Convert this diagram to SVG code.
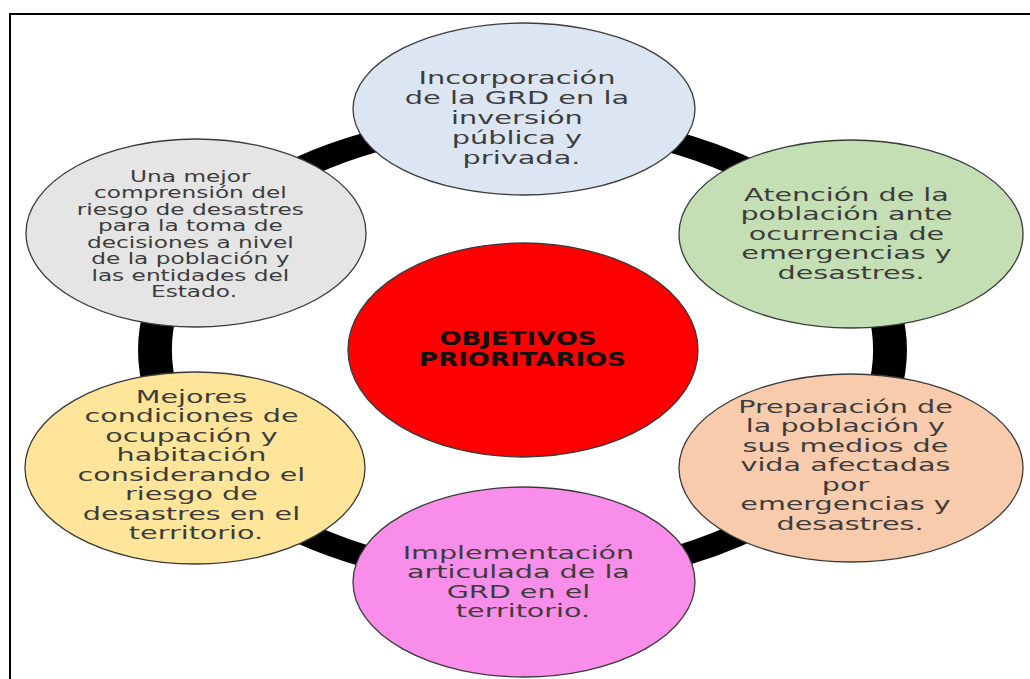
<svg xmlns="http://www.w3.org/2000/svg" width="1030" height="679" viewBox="0 0 1030 679">
<style>
.node{stroke:#3a3a3a;stroke-width:1.3}
.t{font-family:"DejaVu Sans","Liberation Sans",sans-serif;font-size:18px;fill:#3c3c3c;text-anchor:middle}
.s{font-size:15px}
.c{font-family:"DejaVu Sans","Liberation Sans",sans-serif;font-size:20px;font-weight:bold;fill:#111;text-anchor:middle}
</style>
<rect width="1030" height="679" fill="#ffffff"/>
<path d="M10,679 V14 H1030" fill="none" stroke="#000" stroke-width="2"/>
<g id="connectors">
<g transform="translate(522.5,350) scale(1.612,1)">
<circle cx="0" cy="0" r="228" fill="none" stroke="#000" stroke-width="21"/>
</g>
</g>
<g id="top">
<ellipse class="node" cx="524" cy="109" rx="171" ry="86" fill="#dce6f2"/>
<text class="t" transform="translate(521.5,0) scale(1.6,1)">
<tspan x="0" y="84">Incorporación</tspan>
<tspan x="0" y="104">de la GRD en la</tspan>
<tspan x="0" y="124">inversión</tspan>
<tspan x="0" y="144">pública y</tspan>
<tspan x="0" y="164">privada.</tspan>
</text>
</g>
<g id="upper-left">
<ellipse class="node" cx="196" cy="233" rx="170" ry="94" fill="#e5e5e5"/>
<text class="t s" transform="translate(194,0) scale(1.55,1)">
<tspan x="0" y="182">Una mejor</tspan>
<tspan x="0" y="198.5">comprensión del</tspan>
<tspan x="0" y="215">riesgo de desastres</tspan>
<tspan x="0" y="231.5">para la toma de</tspan>
<tspan x="0" y="248">decisiones a nivel</tspan>
<tspan x="0" y="264.5">de la población y</tspan>
<tspan x="0" y="281">las entidades del</tspan>
<tspan x="0" y="297.5">Estado.</tspan>
</text>
</g>
<g id="upper-right">
<ellipse class="node" cx="851" cy="234" rx="172" ry="94" fill="#c4dfb4"/>
<text class="t" transform="translate(851,0) scale(1.59,1)">
<tspan x="0" y="201">Atención de la</tspan>
<tspan x="0" y="220.5">población ante</tspan>
<tspan x="0" y="240">ocurrencia de</tspan>
<tspan x="0" y="259.5">emergencias y</tspan>
<tspan x="0" y="279">desastres.</tspan>
</text>
</g>
<g id="lower-left">
<ellipse class="node" cx="195" cy="468" rx="170" ry="96" fill="#ffe59a"/>
<text class="t" transform="translate(196,0) scale(1.59,1)">
<tspan x="0" y="403">Mejores</tspan>
<tspan x="0" y="422.5">condiciones de</tspan>
<tspan x="0" y="442">ocupación y</tspan>
<tspan x="0" y="461.5">habitación</tspan>
<tspan x="0" y="481">considerando el</tspan>
<tspan x="0" y="500.5">riesgo de</tspan>
<tspan x="0" y="520">desastres en el</tspan>
<tspan x="0" y="539.5">territorio.</tspan>
</text>
</g>
<g id="lower-right">
<ellipse class="node" cx="851" cy="468" rx="172" ry="94" fill="#f8cbad"/>
<text class="t" transform="translate(850,0) scale(1.59,1)">
<tspan x="0" y="413">Preparación de</tspan>
<tspan x="0" y="432.5">la población y</tspan>
<tspan x="0" y="452">sus medios de</tspan>
<tspan x="0" y="471.5">vida afectadas</tspan>
<tspan x="0" y="491">por</tspan>
<tspan x="0" y="510.5">emergencias y</tspan>
<tspan x="0" y="530">desastres.</tspan>
</text>
</g>
<g id="bottom">
<ellipse class="node" cx="524" cy="582" rx="171" ry="95" fill="#f98eea"/>
<text class="t" transform="translate(523,0) scale(1.59,1)">
<tspan x="0" y="559">Implementación</tspan>
<tspan x="0" y="578.5">articulada de la</tspan>
<tspan x="0" y="598">GRD en el</tspan>
<tspan x="0" y="617.5">territorio.</tspan>
</text>
</g>
<g id="center">
<ellipse class="node" cx="523" cy="350" rx="175" ry="107" fill="#ff0000"/>
<text class="c" transform="translate(522.5,0) scale(1.3,1)">
<tspan x="0" y="345">OBJETIVOS</tspan>
<tspan x="0" y="366">PRIORITARIOS</tspan>
</text>
</g>
</svg>
